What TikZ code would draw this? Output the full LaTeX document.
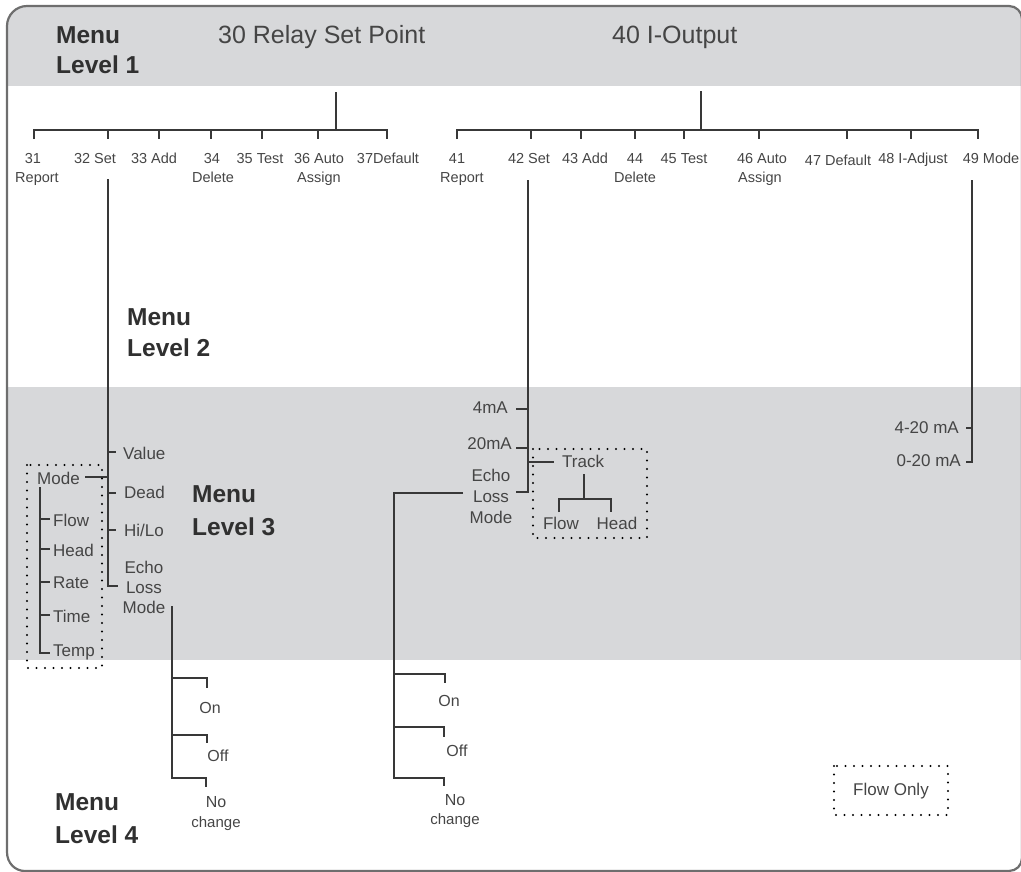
\documentclass[tikz,border=0pt]{standalone}
\usepackage{fontspec}
\setmainfont{Liberation Sans}
\definecolor{bandc}{HTML}{D7D8DA}
\definecolor{framec}{HTML}{6E6E6E}
\definecolor{linec}{HTML}{383838}
\definecolor{textc}{HTML}{454545}
\definecolor{lvlc}{HTML}{303030}
\begin{document}
\begin{tikzpicture}[x=1pt,y=-1pt,
  tree/.style={draw=linec,line width=2.7pt,line join=miter},
  small/.style={font=\fontsize{14.5}{17}\selectfont,text=textc,inner sep=0pt,anchor=base},
  mid/.style={font=\fontsize{17}{20}\selectfont,text=textc,inner sep=0pt},
  low/.style={font=\fontsize{16}{19}\selectfont,text=textc,inner sep=0pt,anchor=base},
  lvl/.style={font=\fontsize{24.5}{28}\selectfont\bfseries,text=lvlc,inner sep=0pt,anchor=base west},
  ttl/.style={font=\fontsize{25}{28}\selectfont,text=textc,inner sep=0pt,anchor=base west},
  dotbox/.style={draw=black,line width=2.4pt,line cap=round,dash pattern=on 0pt off 8.5pt}]
\useasboundingbox (0,0) rectangle (1021,871);
% frame and bands
\begin{scope}
\clip (7,852) -- (7,26) .. controls (7,15) and (16,6) .. (27,6) -- (1009,6)
  .. controls (1016.2,6) and (1022,11.8) .. (1022,19) -- (1022,858)
  .. controls (1022,865.2) and (1016.2,871) .. (1009,871) -- (25,871)
  .. controls (15,871) and (7,863) .. (7,852) -- cycle;
\fill[bandc] (0,0) rectangle (1021,86);
\fill[bandc] (0,387) rectangle (1021,660);
\end{scope}
\draw[framec,line width=2.2pt] (7,852) -- (7,26) .. controls (7,15) and (16,6) .. (27,6) -- (1009,6)
  .. controls (1016.2,6) and (1022,11.8) .. (1022,19) -- (1022,858)
  .. controls (1022,865.2) and (1016.2,871) .. (1009,871) -- (25,871)
  .. controls (15,871) and (7,863) .. (7,852) -- cycle;

% level labels
\node[lvl] (m1a) at (56,43) {Menu};
\node[lvl] (m1b) at (56,73) {Level 1};
\node[lvl] (m2a) at (127,325) {Menu};
\node[lvl] (m2b) at (127,356) {Level 2};
\node[lvl] (m3a) at (192,502) {Menu};
\node[lvl] (m3b) at (192,535) {Level 3};
\node[lvl] (m4a) at (55,810) {Menu};
\node[lvl] (m4b) at (55,843) {Level 4};

% level 1 titles
\node[ttl] (t30) at (218,43) {30 Relay Set Point};
\node[ttl] (t40) at (612,43) {40 I-Output};

% tree 30
\coordinate (s30a) at (336,92); \coordinate (s30b) at (336,130);
\draw[tree] (s30a) -- (s30b);
\coordinate (b30l) at (34,130); \coordinate (b30r) at (387,130);
\draw[tree] (34,139) -- (b30l) -- (b30r) -- (387,139);
\foreach \xx in {108,159,211,262,318} \draw[tree] (\xx,130) -- (\xx,139);
\node[small] (n31a) at (33,163) {31};
\node[small] (n31b) at (37,182) {Report};
\node[small] (n32) at (95,163) {32 Set};
\node[small] (n33) at (154,163) {33 Add};
\node[small] (n34a) at (212,163) {34};
\node[small] (n34b) at (213,182) {Delete};
\node[small] (n35) at (260,163) {35 Test};
\node[small] (n36a) at (319,163) {36 Auto};
\node[small] (n36b) at (319,182) {Assign};
\node[small] (n37) at (388,163) {37Default};

% tree 40
\coordinate (s40a) at (701,91); \coordinate (s40b) at (701,130);
\draw[tree] (s40a) -- (s40b);
\coordinate (b40l) at (457,130); \coordinate (b40r) at (978,130);
\draw[tree] (457,139) -- (b40l) -- (b40r) -- (978,139);
\foreach \xx in {531,581,635,684,759,847,911} \draw[tree] (\xx,130) -- (\xx,139);
\node[small] (n41a) at (457,163) {41};
\node[small] (n41b) at (462,182) {Report};
\node[small] (n42) at (529,163) {42 Set};
\node[small] (n43) at (585,163) {43 Add};
\node[small] (n44a) at (635,163) {44};
\node[small] (n44b) at (635,182) {Delete};
\node[small] (n45) at (684,163) {45 Test};
\node[small] (n46a) at (762,163) {46 Auto};
\node[small] (n46b) at (760,182) {Assign};
\node[small] (n47) at (838,165) {47 Default};
\node[small] (n48) at (913,163) {48 I-Adjust};
\node[small] (n49) at (991,163) {49 Mode};

% branch 32 Set
\coordinate (v32t) at (108,179); \coordinate (v32b) at (108,586);
\draw[tree] (v32t) -- (v32b) -- (118,586);
\draw[tree] (108,452) -- (116,452);
\draw[tree] (108,493) -- (116,493);
\draw[tree] (108,530) -- (116,530);
\draw[tree] (85,477) -- (108,477);
\node[mid,anchor=base west] (val) at (123,459) {Value};
\node[mid,anchor=base west] (dead) at (124,498) {Dead};
\node[mid,anchor=base west] (hilo) at (124,536) {Hi/Lo};
\node[mid,anchor=base] (e1a) at (144,573) {Echo};
\node[mid,anchor=base] (e1b) at (144,593) {Loss};
\node[mid,anchor=base] (e1c) at (144,613) {Mode};

% mode box (left)
\draw[dotbox] (27,465) rectangle (102,668);
\node[mid,anchor=base west] (mode1) at (37,484) {Mode};
\draw[tree] (40,487) -- (40,653) -- (50,653);
\foreach \yy in {519,549,582,615} \draw[tree] (40,\yy) -- (50,\yy);
\node[mid,anchor=base west] (fl1) at (53,526) {Flow};
\node[mid,anchor=base west] (hd1) at (53,556) {Head};
\node[mid,anchor=base west] (rt1) at (53,588) {Rate};
\node[mid,anchor=base west] (tm1) at (53,622) {Time};
\node[mid,anchor=base west] (tp1) at (53,656) {Temp};

% level 4 left
\draw[tree] (172,606) -- (172,778) -- (206,778) -- (206,787);
\draw[tree] (172,678) -- (207,678) -- (207,688);
\draw[tree] (172,735) -- (207,735) -- (207,743);
\node[low] (on1) at (210,713) {On};
\node[low] (off1) at (218,761) {Off};
\node[low] (no1) at (216,807) {No};
\node[low,font=\fontsize{15}{18}\selectfont] (ch1) at (216,827) {change};

% branch 42 Set
\draw[tree] (528,180) -- (528,492) -- (516,492);
\draw[tree] (516,409) -- (528,409);
\draw[tree] (516,448) -- (528,448);
\draw[tree] (528,462) -- (554,462);
\node[mid,anchor=base east] (ma4) at (508,413) {4mA};
\node[mid,anchor=base east] (ma20) at (512,449) {20mA};
\node[mid,anchor=base] (e2a) at (491,481) {Echo};
\node[mid,anchor=base] (e2b) at (491,502) {Loss};
\node[mid,anchor=base] (e2c) at (491,523) {Mode};
\draw[dotbox] (533,449) rectangle (647,538);
\node[mid,anchor=base west] (trk) at (562,467) {Track};
\draw[tree] (584,474) -- (584,499);
\draw[tree] (559,512) -- (559,499) -- (611,499) -- (611,512);
\node[mid,anchor=base] (fl2) at (561,529) {Flow};
\node[mid,anchor=base] (hd2) at (617,529) {Head};

% level 4 right
\draw[tree] (463,493) -- (394,493) -- (394,778) -- (444,778) -- (444,786);
\draw[tree] (394,674) -- (445,674) -- (445,683);
\draw[tree] (394,727) -- (444,727) -- (444,737);
\node[low] (on2) at (449,706) {On};
\node[low] (off2) at (457,756) {Off};
\node[low] (no2) at (455,805) {No};
\node[low,font=\fontsize{15}{18}\selectfont] (ch2) at (455,824) {change};

% branch 49 Mode
\draw[tree] (972,180) -- (972,462) -- (966,462);
\draw[tree] (966,428) -- (972,428);
\node[mid,anchor=base east] (m420) at (959,433) {4-20 mA};
\node[mid,anchor=base east] (m020) at (961,466) {0-20 mA};

% flow only
\draw[dotbox] (834,766) rectangle (948,815);
\node[mid,anchor=base] (fonly) at (891,795) {Flow Only};
\end{tikzpicture}
\end{document}
